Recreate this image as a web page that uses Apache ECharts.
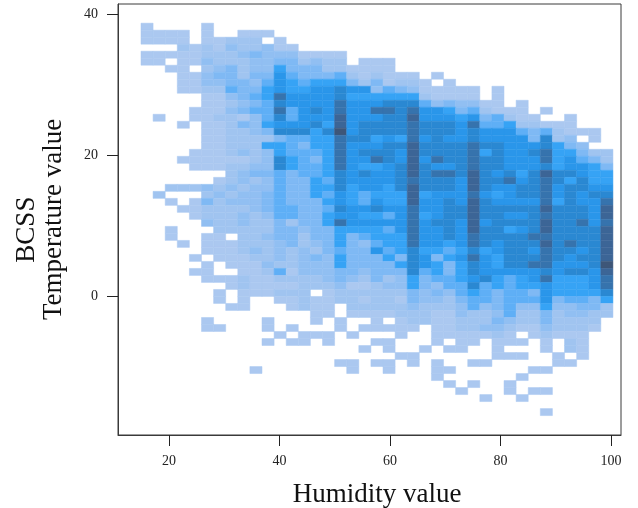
<!DOCTYPE html>
<html>
<head>
<meta charset="utf-8">
<style>html,body{margin:0;padding:0;background:#fff}#c{width:638px;height:508px}</style>
<script src="https://cdn.jsdelivr.net/npm/echarts@6/dist/echarts.min.js"></script>
</head>
<body>
<div id="c"></div>
<script>
// Shade level of each histogram bin, one string per temperature bin (top to bottom),
// one character per humidity bin (left to right). '.' is an empty bin.
const binLevels = [
"1.... 1",
"1111. 1..11 1",
"1111. 11222 .1",
"...21 21322 311",
"11111 22234 33311 11",
"11.11 32223 34423 22.11 1",
"..11. 23423 36444 22111 1",
"...11 34424 47544 45212 111.1",
"...11 33443 57656 66424 1221. 1",
"...11 22544 67667 78773 54311 111.1",
"..... 11345 69777 78666 66621 111.1",
"..... 11234 58777 79777 88853 43311 .1",
"....1 11345 59578 79779 98977 64521 11.1",
".1..1 12213 58577 7a777 88a77 76745 211.. 1",
"...1. 11243 67778 6a788 88988 87955 62211 1",
"..... 11223 48886 8b788 88988 87877 75452 111",
"..... 11222 24556 69886 76978 77877 77482 3.1",
"..... 11222 66546 69777 88a88 88988 77786 43",
"....1 11232 36555 69788 87a88 88968 77896 6422",
"...11 11112 38654 69779 87a79 88988 77796 7542",
"....1 11223 38655 69766 78a87 78988 77786 7764",
"..... ..234 45455 68787 78a89 98a87 868a8 8766",
"..... .1232 35446 58777 78988 87a88 97898 6866",
"..222 32323 35446 68677 68a88 87a87 78897 8877",
".2... 23233 45446 57656 66a67 77976 78897 8788",
"..1.1 42333 45444 67657 66a77 87a87 77796 8779",
"...11 22223 45544 58778 77977 88a88 888a8 887a",
"....1 22232 35544 67766 57967 88a88 77898 887a",
"..... 32232 24244 69777 77978 87a78 888a8 8979",
"..1.. .2222 24434 46666 57977 87a88 678a8 888a",
"..1.. 11.22 34424 46456 66977 87988 88998 888a",
"...1. 11122 23423 46435 66977 67987 888a8 988a",
"..... 11123 23232 45447 56866 56867 88798 878a",
"....1 .1112 23234 36444 64874 67976 88898 788a",
"..... 1.111 32233 36444 46876 46876 88997 778b",
"....1 1..11 25133 34434 44856 46877 77787 887a",
"..... 11121 12222 34324 23645 56786 56796 6679",
"..... ..121 11122 23112 33643 55856 56676 6679",
"..... .1.11 1222. 12222 22434 35654 55476 6668",
"..... .1.1. .1121 12212 21433 24554 55574 5546",
"..... ..11. ..121 1.222 22322 23534 53363 3442",
"..... ..... ....1 1.111 12221 13223 52242 3322",
"..... 1.... 1...1 .1..1 .1221 12224 32242 222",
"..... 11... 1.1.. .1.11 111.1 12233 21132 221",
"..... ..... .1.11 1.1.. .1..1 11112 1.121 11",
"..... ..... 1.11. 1...1 1...1 .11.1 11.1. 21",
"..... ..... ..... ...1. 1..1. 11..1 ...1. 21",
"..... ..... ..... ..... .11.. ....1 11..1 .1",
"..... ..... ..... .11.1 1.1.1 ..11. ....1 1",
"..... ....1 ..... ..1.. 1...1 1.... ..11",
"..... ..... ..... ..... ....1 ..... .1",
"..... ..... ..... ..... ..... 1.1.. 1",
"..... ..... ..... ..... ..... .1... 1.11",
"..... ..... ..... ..... ..... ...1. .1",
"",
"..... ..... ..... ..... ..... ..... ...1"
];
const levelKeys = "123456789ab";
const levelColors = ["#abc8f0","#a0c4f0","#91bff2","#7fb9f4","#5fafF6","#36a3f5","#2a96ea","#2a88d2","#3673ad","#3c6596","#3e5678"];

const humidityTicks = [20,40,60,80,100];
const temperatureTicks = [0,20,40];
const humidityBinStart = 14.93, humidityBinWidth = 2.19;
const temperatureBinTop = 38.7, temperatureBinHeight = 0.994;
const humidityTitle = "Humidity value";
const temperatureTitle = "BCSS   \nTemperature value";

const cells = [];
binLevels.forEach((row, r) => {
  row.replace(/ /g,'').split('').forEach((ch, j) => {
    if (ch === '.') return;
    cells.push([
      humidityBinStart + j * humidityBinWidth,
      temperatureBinTop - r * temperatureBinHeight,
      humidityBinStart + (j + 1) * humidityBinWidth,
      temperatureBinTop - (r + 1) * temperatureBinHeight,
      levelKeys.indexOf(ch)
    ]);
  });
});

const font = '"Liberation Serif", serif';
const axisCommon = {
  type: 'value',
  splitLine: {show:false},
  axisLine: {show:true, onZero:false, lineStyle:{color:'#3a3a3a', width:1}},
  nameLocation: 'middle'
};
const chart = echarts.init(document.getElementById('c'), null, {renderer:'canvas'});
chart.setOption({
  animation:false,
  backgroundColor:'#fff',
  grid:{left:118, right:17, top:4, bottom:73, show:true, borderColor:'#3a3a3a', borderWidth:1, containLabel:false, outerBoundsMode:'none'},
  xAxis:Object.assign({}, axisCommon, {
    min:10.77, max:101.8,
    name:humidityTitle, nameGap:46,
    nameTextStyle:{fontFamily:font, fontSize:27, color:'#111', padding:[0,0,0,15]},
    axisTick:{show:true, length:11, customValues:humidityTicks, lineStyle:{color:'#222'}},
    axisLabel:{customValues:humidityTicks, margin:19, fontFamily:font, fontSize:14, color:'#222'}
  }),
  yAxis:Object.assign({}, axisCommon, {
    min:-19.72, max:41.42,
    name:temperatureTitle, nameGap:51, nameRotate:90,
    nameTextStyle:{fontFamily:font, fontSize:27, color:'#111', lineHeight:27},
    axisTick:{show:true, length:11, customValues:temperatureTicks, lineStyle:{color:'#222'}},
    axisLabel:{customValues:temperatureTicks, margin:20, fontFamily:font, fontSize:14, color:'#222'}
  }),
  series:[{
    type:'custom',
    silent:true,
    coordinateSystem:'cartesian2d',
    data:cells,
    encode:{x:[0,2], y:[1,3]},
    renderItem:function(params, api){
      const a = api.coord([api.value(0), api.value(1)]);
      const b = api.coord([api.value(2), api.value(3)]);
      const c = levelColors[api.value(4)];
      return {type:'rect',
        shape:{x:a[0], y:a[1], width:b[0]-a[0], height:b[1]-a[1]},
        style:{fill:c, stroke:c, lineWidth:0.5}};
    }
  }]
});
</script>
</body>
</html>
